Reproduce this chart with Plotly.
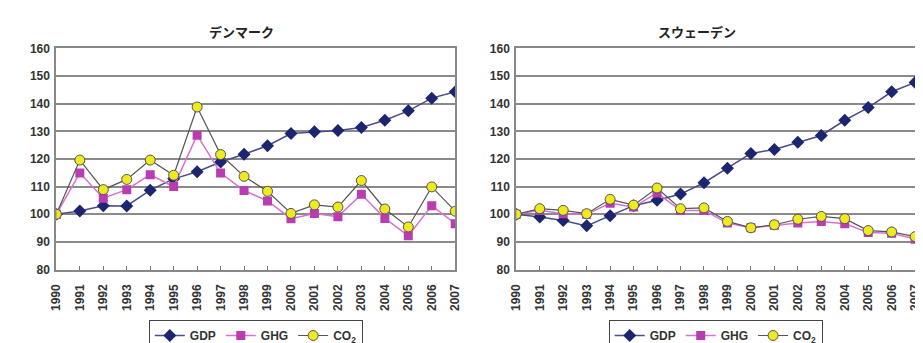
import plotly.graph_objects as go

years = [str(y) for y in range(1990, 2008)]

dk_gdp = [100, 101.2, 103.1, 103.0, 108.7, 112.8, 115.4, 118.9, 121.7, 124.8, 129.2, 129.8, 130.3, 131.4, 134.0, 137.4, 142.0, 144.3]
dk_ghg = [100, 114.9, 105.8, 108.9, 114.3, 110.0, 128.6, 114.9, 108.6, 104.8, 98.4, 100.3, 99.1, 107.2, 98.5, 92.2, 103.1, 96.6]
dk_co2 = [100, 119.6, 108.9, 112.6, 119.6, 114.1, 138.8, 121.6, 113.7, 108.3, 100.3, 103.4, 102.6, 112.2, 101.9, 95.4, 109.9, 101.1]

se_gdp = [100, 99.0, 97.7, 95.8, 99.5, 103.1, 105.1, 107.3, 111.4, 116.6, 122.0, 123.4, 126.0, 128.5, 134.0, 138.6, 144.3, 147.7]
se_ghg = [100, 101.4, 100.2, 100.0, 104.0, 102.6, 107.7, 101.4, 101.4, 96.8, 95.1, 96.0, 96.8, 97.4, 96.6, 93.4, 93.1, 91.0]
se_co2 = [100, 102.0, 101.4, 100.2, 105.4, 103.3, 109.5, 102.0, 102.3, 97.4, 95.1, 96.2, 98.2, 99.2, 98.4, 94.1, 93.6, 91.9]

titles = ["デンマーク", "スウェーデン"]
y_ticks = [80, 90, 100, 110, 120, 130, 140, 150, 160]

GDP_C = "#1B2570"
GDP_L = "#4A4C8C"
GHG_C = "#B93DB0"
GHG_L = "#D772CF"
CO2_C = "#EEEA1E"
CO2_L = "#555555"

fig = go.Figure()

panels = [
    (dk_gdp, dk_ghg, dk_co2, "x", "y", "legend"),
    (se_gdp, se_ghg, se_co2, "x2", "y2", "legend2"),
]
for gdp, ghg, co2, xa, ya, lg in panels:
    fig.add_trace(go.Scatter(x=years, y=gdp, name="GDP", mode="lines+markers",
                             line=dict(color=GDP_L, width=1.5),
                             marker=dict(symbol="diamond", size=10, color=GDP_C),
                             xaxis=xa, yaxis=ya, legend=lg))
    fig.add_trace(go.Scatter(x=years, y=ghg, name="GHG", mode="lines+markers",
                             line=dict(color=GHG_L, width=1.5),
                             marker=dict(symbol="square", size=9, color=GHG_C),
                             xaxis=xa, yaxis=ya, legend=lg))
    fig.add_trace(go.Scatter(x=years, y=co2, name="CO<sub>2</sub>", mode="lines+markers",
                             line=dict(color=CO2_L, width=1.2),
                             marker=dict(symbol="circle", size=10, color=CO2_C,
                                         line=dict(color="#555555", width=1)),
                             xaxis=xa, yaxis=ya, legend=lg))

tickfont = dict(family="Liberation Sans, Arial", size=12, color="#333333", weight="bold")
xcommon = dict(type="category", range=[0, 17], showgrid=False, ticks="inside",
               ticklen=4, tickcolor="#777777", tickangle=-90, tickfont=tickfont,
               ticklabelstandoff=8,
               showline=True, linecolor="#888888", linewidth=2, mirror=True)
ycommon = dict(range=[80, 160], tickvals=y_ticks, showgrid=True, gridcolor="#8a8a8a",
               gridwidth=2, ticks="", tickfont=tickfont, showline=True,
               linecolor="#888888", linewidth=2, mirror=True, zeroline=False,
               ticklabelstandoff=2)

xd1 = [42 / 923, 447 / 923]
xd2 = [509 / 923, 914 / 923]
yd = [1 - 267 / 343, 1 - 35 / 343]

legend_common = dict(orientation="h", xanchor="center", yanchor="top", y=1 - 320 / 343,
                     bordercolor="#444444", borderwidth=1, bgcolor="white",
                     font=dict(family="Liberation Sans, Arial", size=12, color="#333333",
                               weight="bold"),
                     itemwidth=30, tracegroupgap=0)

fig.update_layout(
    width=923, height=343,
    margin=dict(l=0, r=0, t=0, b=0),
    paper_bgcolor="white", plot_bgcolor="white",
    xaxis=dict(domain=xd1, anchor="y", **xcommon),
    yaxis=dict(domain=yd, anchor="x", **ycommon),
    xaxis2=dict(domain=xd2, anchor="y2", **xcommon),
    yaxis2=dict(domain=yd, anchor="x2", **ycommon),
    legend=dict(x=(xd1[0] + xd1[1]) / 2, **legend_common),
    legend2=dict(x=(xd2[0] + xd2[1]) / 2, **legend_common),
    annotations=[
        dict(text="<b>" + titles[0] + "</b>", x=230 / 923, y=1 - 17 / 343, xref="paper", yref="paper",
             showarrow=False, xanchor="center", yanchor="middle",
             font=dict(family="Noto Sans CJK JP", size=13, color="#222222")),
        dict(text="<b>" + titles[1] + "</b>", x=692 / 923, y=1 - 17 / 343, xref="paper", yref="paper",
             showarrow=False, xanchor="center", yanchor="middle",
             font=dict(family="Noto Sans CJK JP", size=13, color="#222222")),
    ],
    showlegend=True,
)

fig.write_html("out.html")
